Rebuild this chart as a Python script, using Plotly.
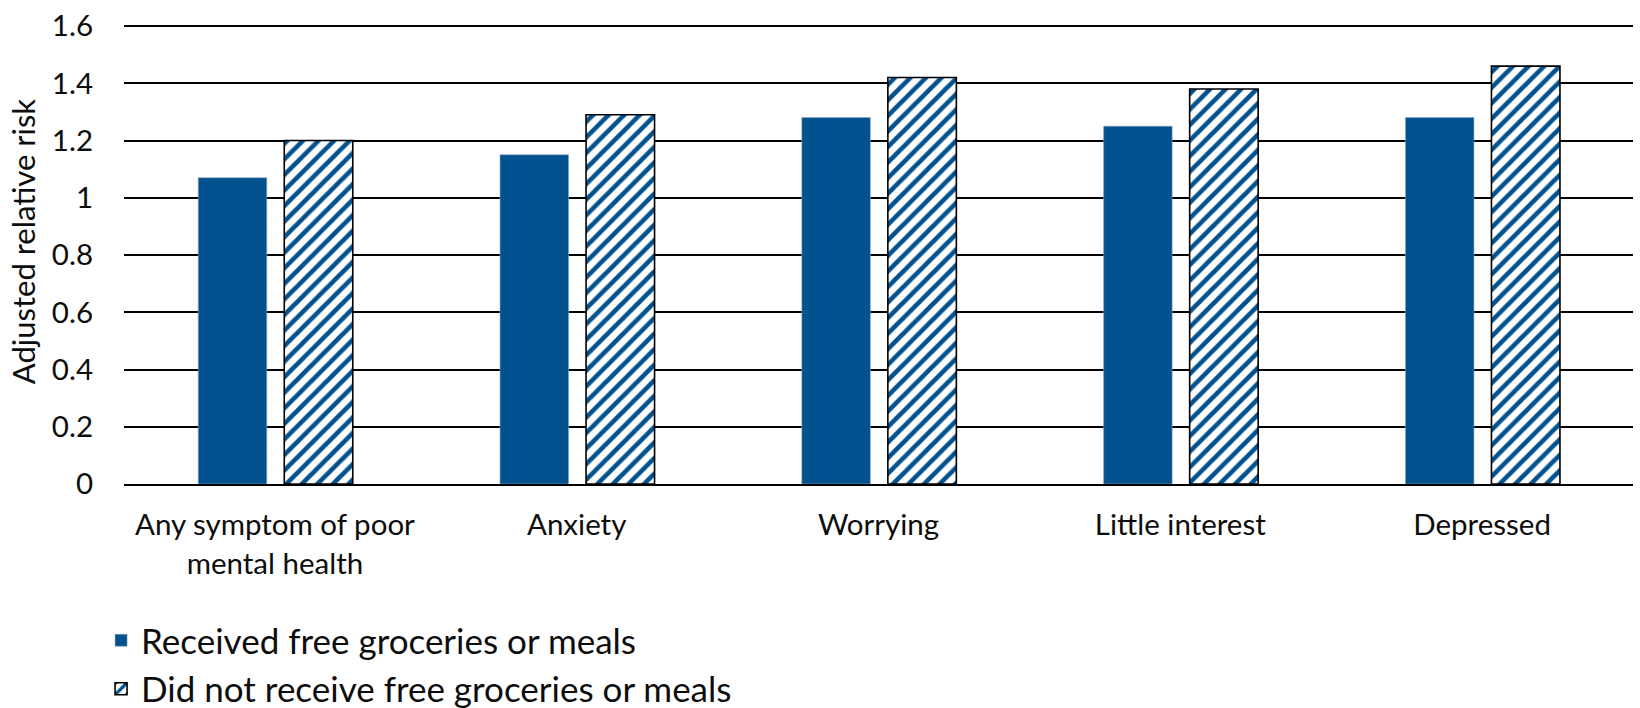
import plotly.graph_objects as go

# Outcome categories and adjusted relative risks for each group
categories = [
    "Any symptom of poor<br>mental health",
    "Anxiety",
    "Worrying",
    "Little interest",
    "Depressed",
]
received = [1.07, 1.15, 1.28, 1.25, 1.28]
not_received = [1.20, 1.29, 1.42, 1.38, 1.46]
y_ticks = [0, 0.2, 0.4, 0.6, 0.8, 1, 1.2, 1.4, 1.6]
y_tick_labels = ["0", "0.2", "0.4", "0.6", "0.8", "1", "1.2", "1.4", "1.6"]

BLUE = "#02528F"
FONT = "Lato"
TEXT = "#0d0d0d"

fig = go.Figure()

fig.add_trace(go.Bar(
    x=categories,
    y=received,
    name="Received free groceries or meals",
    width=0.227,
    offset=-0.254,
    marker=dict(color=BLUE, line=dict(color="#8aa3bd", width=0.6)),
    legendgroup="a",
))

fig.add_trace(go.Bar(
    x=categories,
    y=not_received,
    name="Did not receive free groceries or meals",
    width=0.227,
    offset=0.031,
    marker=dict(
        color="white",
        line=dict(color="black", width=1.6),
        pattern=dict(shape="/", fgcolor=BLUE, bgcolor="white", fgopacity=1,
                     size=11, solidity=0.42),
    ),
    legendgroup="b",
))

# Vertical y-axis title, placed a little above the plot-area centre
fig.add_annotation(
    text="Adjusted relative risk",
    xref="paper", yref="paper",
    x=-0.0669, y=0.528,
    xanchor="center", yanchor="middle",
    textangle=-90,
    showarrow=False,
    font=dict(size=31, family=FONT, color=TEXT),
)

fig.update_layout(
    width=1640,
    height=708,
    margin=dict(l=124, r=7, t=18, b=224),
    paper_bgcolor="white",
    plot_bgcolor="white",
    font=dict(family=FONT, color=TEXT, size=29),
    showlegend=True,
    legend=dict(
        orientation="v",
        xref="paper",
        x=-0.0152,
        xanchor="left",
        yref="container",
        y=0.137,
        yanchor="top",
        font=dict(size=35, family=FONT, color=TEXT),
        tracegroupgap=0,
        itemwidth=30,
    ),
    xaxis=dict(
        type="category",
        range=[-0.5, 4.5],
        showgrid=False,
        showline=True,
        linecolor="black",
        linewidth=2,
        ticks="",
        tickfont=dict(size=29.5, family=FONT, color=TEXT),
        ticklabelstandoff=14,
    ),
    yaxis=dict(
        range=[0, 1.607],
        tickvals=y_ticks,
        ticktext=y_tick_labels,
        showgrid=True,
        gridcolor="black",
        gridwidth=2,
        zeroline=False,
        showline=False,
        ticks="",
        tickfont=dict(size=29.5, family=FONT, color=TEXT),
        ticklabelstandoff=30,
    ),
)

fig.write_html("out.html")
